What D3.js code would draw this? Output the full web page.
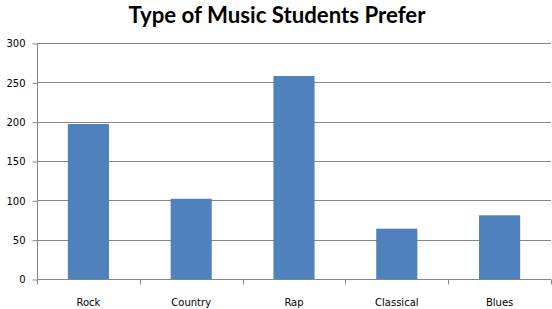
<!DOCTYPE html>
<html><head><meta charset="utf-8">
<script src="https://cdn.jsdelivr.net/npm/d3@7"></script>
<style>body{margin:0;background:#fff}svg{display:block}</style>
</head><body>
<svg id="c" width="552" height="309"></svg>
<script>
const categories = ["Rock","Country","Rap","Classical","Blues"];
const values = [197,102,258,64,81];
const yTicks = [0,50,100,150,200,250,300];
const title = "Type of Music Students Prefer";

const svg = d3.select("#c");
const m = {left:37, right:551, top:43, bottom:279};
const x = d3.scaleBand().domain(categories).range([m.left, m.right]).paddingInner(0.6).paddingOuter(0.3);
const y = d3.scaleLinear().domain([0,300]).range([m.bottom, m.top]);
const grid = "#868686";

// gridlines
svg.append("g").selectAll("line").data(yTicks.filter(d=>d>0)).join("line")
  .attr("x1", m.left).attr("x2", m.right)
  .attr("y1", d=>Math.round(y(d))+0.5).attr("y2", d=>Math.round(y(d))+0.5)
  .attr("stroke", grid).attr("stroke-width",1);

// bars
svg.append("g").selectAll("rect").data(values).join("rect")
  .attr("x", (d,i)=>x(categories[i]))
  .attr("width", x.bandwidth())
  .attr("y", d=>y(d))
  .attr("height", d=>y(0)-y(d))
  .attr("fill", "#4F81BD");

// y axis
const ya = svg.append("g").attr("transform", `translate(${m.left+0.5},0.5)`)
  .call(d3.axisLeft(y).tickValues(yTicks).tickSize(5).tickPadding(7).tickFormat(d3.format("d")));
ya.select(".domain").attr("stroke", grid).attr("d", `M0,${m.top-0.5}V${m.bottom}`);
ya.selectAll(".tick line").attr("stroke", grid);
ya.selectAll("text").attr("font-family","DejaVu Sans").attr("font-size","10px").attr("fill","#000");
ya.attr("font-family", null);

// x axis
const xa = svg.append("g").attr("transform", `translate(0,${Math.round(y(0))+0.5})`)
  .call(d3.axisBottom(x).tickSize(0).tickPadding(19));
xa.select(".domain").attr("stroke", grid).attr("d", `M${m.left},0H${m.right}`);
xa.selectAll("text").attr("font-family","DejaVu Sans").attr("font-size","10px").attr("fill","#000");
const step = x.step();
const bounds = d3.range(categories.length+1).map(i=>m.left + i*step);
xa.append("g").selectAll("line").data(bounds).join("line")
  .attr("x1", d=>Math.round(d)+0.5).attr("x2", d=>Math.round(d)+0.5)
  .attr("y1", 0).attr("y2", 5).attr("stroke", grid);

// title
const t = svg.append("text").attr("x", 277).attr("y", 23).attr("text-anchor","middle")
  .attr("font-family","Lato, 'Open Sans', sans-serif").attr("font-weight","bold")
  .attr("font-size","21px").attr("fill","#000").text(title);
const w = t.node().getComputedTextLength();
t.attr("font-size", (21*297/w).toFixed(2)+"px");
</script>
</body></html>
